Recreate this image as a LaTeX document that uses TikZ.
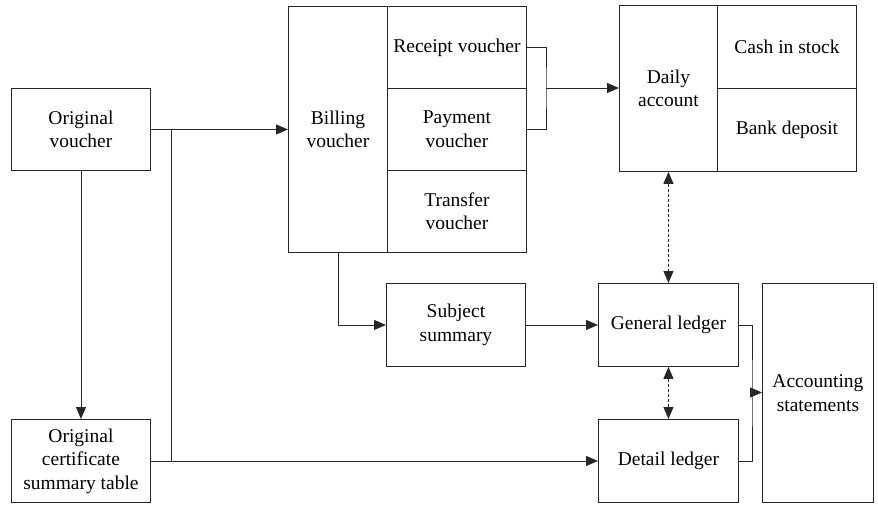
\documentclass[tikz,border=0pt]{standalone}
\usepackage{fontspec}
\setmainfont{Liberation Serif}
\newfontfamily\boxfont{Liberation Serif}
\usetikzlibrary{arrows.meta}

\tikzset{
  box/.style={draw=black!85, line width=0.9pt, inner sep=2pt, align=center,
    font=\boxfont\fontsize{19.5}{23.5}\selectfont},
  link/.style={draw=black!85, line width=0.9pt},
  arr/.style={link, -{Triangle[length=12pt,width=10pt]}},
  dbl/.style={link, dash pattern=on 3pt off 2pt,
    {Triangle[length=12pt,width=10pt]}-{Triangle[length=12pt,width=10pt]}},
}

% box from corner (x1,y1) to (x2,y2), image-style coordinates
\newcommand{\bx}[6][]{%
  \node[box, #1, minimum width={#4-#2}, minimum height={#5-#3}, anchor=north west]
    (#6) at (#2,#3)}

\begin{document}
\begin{tikzpicture}[x=1pt, y=-1pt]
\useasboundingbox (0,0) rectangle (878,504);

% left column
\bx{11}{88}{150}{170}{ov} {Original\\voucher};
\bx{11}{419}{150}{502}{ost} {Original\\certificate\\summary table};

% billing voucher group
\bx{288}{6}{387}{252}{billing} {Billing\\voucher};
\bx{387}{6}{526}{88}{receipt} {Receipt voucher};
\bx{387}{88}{526}{170}{payment} {Payment\\voucher};
\bx{387}{170}{526}{252}{transfer} {Transfer\\voucher};

% daily account group
\bx{619}{5}{717}{171}{daily} {Daily\\account};
\bx{717}{5}{856}{88}{cash} {Cash in stock};
\bx{717}{88}{856}{171}{bank} {Bank deposit};

% ledgers and outputs
\bx{386}{283}{525}{366}{subject} {Subject\\summary};
\bx{598}{283}{738}{366}{general} {General ledger};
\bx{598}{419}{738}{502}{detail} {Detail ledger};
\bx{762}{283}{873}{502}{acct} {Accounting\\statements};

% junction points
\coordinate (j1) at (171,129);
\coordinate (j2) at (171,460.5);
\coordinate (br) at (546,88);
\coordinate (rb) at (752,392.5);

% voucher flow
\draw[arr] (ov.east) -- (ov.east -| billing.west);
\draw[link] (j1) -- (j2);
\draw[arr] (ov.south) -- (ost.north);
\draw[arr] (ost.east) -- (detail.west);

% receipt and payment vouchers into the daily account
\draw[link] (receipt.east) -| (br) |- (payment.east);
\draw[arr] (br) -- (br -| daily.west);

% billing voucher to subject summary to general ledger
\draw[arr] (billing.south) |- (subject.west);
\draw[arr] (subject.east) -- (general.west);

% reconciliation links
\draw[dbl] (daily.south) -- (general.north);
\draw[dbl] (general.south) -- (detail.north);

% ledgers into the accounting statements
\draw[link] (general.east) -| (rb) |- (detail.east);
\draw[arr] (rb) -- (rb -| acct.west);
\end{tikzpicture}
\end{document}
